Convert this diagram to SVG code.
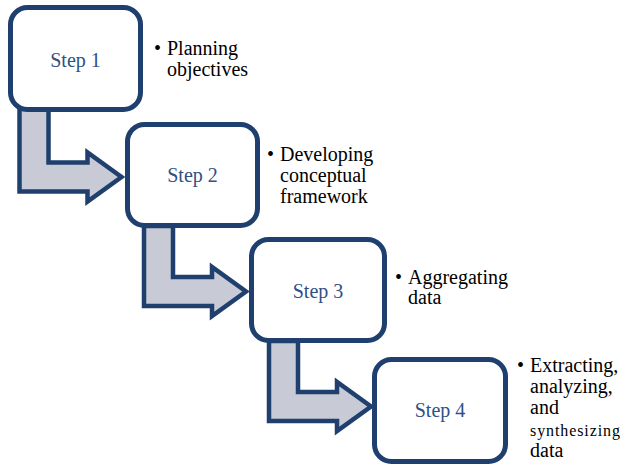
<svg xmlns="http://www.w3.org/2000/svg" width="622" height="468" viewBox="0 0 622 468">
  <style>
    .box { fill: #ffffff; stroke: #1f3f6e; stroke-width: 5; }
    .arrow { fill: #c8cbd5; stroke: #1f3f6e; stroke-width: 4.5; stroke-linejoin: miter; }
    text { font-family: 'Liberation Serif', 'Times New Roman', serif; font-size: 20px; }
    .step { fill: #2e5087; text-anchor: middle; }
    .note { fill: #000000; }
    .small { font-size: 16px; }
  </style>
  <rect width="622" height="468" fill="#ffffff"/>

  <!-- bent arrows linking consecutive steps -->
  <g id="connectors">
    <polygon class="arrow" points="19.5,109 48.5,109 48.5,162.5 87.5,162.5 87.5,152.5 121.5,177 87.5,201.5 87.5,191.5 19.5,191.5"/>
    <polygon class="arrow" points="144,226 173,226 173,277 212,277 212,267 246,291.5 212,316 212,306 144,306"/>
    <polygon class="arrow" points="269,341 298,341 298,392 337,392 337,382 371,406.5 337,431 337,421 269,421"/>
  </g>

  <g id="step1">
    <rect class="box" x="10.5" y="7.5" width="130" height="102" rx="17"/>
    <text class="step" x="75.5" y="67">Step 1</text>
    <text class="note" x="154" y="55">•</text>
    <text class="note" x="167" y="55">Planning</text>
    <text class="note" x="167" y="76">objectives</text>
  </g>

  <g id="step2">
    <rect class="box" x="127.5" y="124.5" width="130" height="101" rx="17"/>
    <text class="step" x="192.5" y="182">Step 2</text>
    <text class="note" x="267" y="160.5">•</text>
    <text class="note" x="280" y="160.5">Developing</text>
    <text class="note" x="280" y="181.5">conceptual</text>
    <text class="note" x="280" y="202.5">framework</text>
  </g>

  <g id="step3">
    <rect class="box" x="251.5" y="239.5" width="133" height="101" rx="17"/>
    <text class="step" x="318" y="297.5">Step 3</text>
    <text class="note" x="395" y="283.5">•</text>
    <text class="note" x="408" y="283.5">Aggregating</text>
    <text class="note" x="408" y="304">data</text>
  </g>

  <g id="step4">
    <rect class="box" x="374.5" y="359.5" width="131" height="102" rx="17"/>
    <text class="step" x="440" y="417">Step 4</text>
    <text class="note" x="517" y="371.5">•</text>
    <text class="note" x="530" y="371.5">Extracting,</text>
    <text class="note" x="530" y="393">analyzing,</text>
    <text class="note" x="530" y="414">and</text>
    <text class="note small" x="530" y="435.5" textLength="90" lengthAdjust="spacing">synthesizing</text>
    <text class="note" x="530" y="457">data</text>
  </g>
</svg>
